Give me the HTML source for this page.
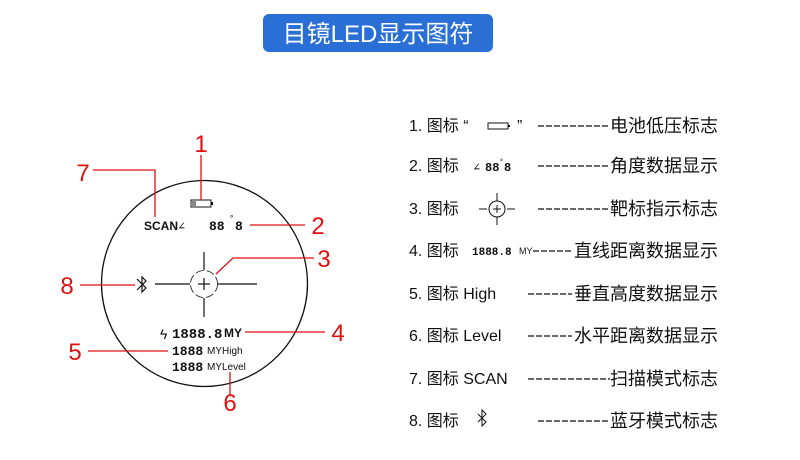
<!DOCTYPE html>
<html><head><meta charset="utf-8"><style>
html,body{margin:0;padding:0;background:#fff;}
svg{display:block;}
.s{font-family:"Liberation Sans","Noto Sans CJK SC",sans-serif;}
.m{font-family:"Liberation Mono",monospace;}
.n{font-family:"Liberation Sans Narrow","Liberation Sans",sans-serif;}
</style></head><body>
<svg width="800" height="460" viewBox="0 0 800 460" xmlns="http://www.w3.org/2000/svg">
<rect x="263" y="14" width="230" height="38" rx="6" fill="#2a6fd6"/>
<text class="s" x="378" y="42" font-size="24" fill="#fff" text-anchor="middle">目镜LED显示图符</text>

<circle cx="204.5" cy="283.5" r="103" fill="none" stroke="#111" stroke-width="1.3"/>
<rect x="191" y="200" width="20" height="7" fill="none" stroke="#111" stroke-width="1"/>
<rect x="211" y="202" width="2" height="3" fill="#111"/>
<line x1="193" y1="201" x2="193" y2="206" stroke="#111"/><line x1="195" y1="201" x2="195" y2="206" stroke="#111"/>
<g fill="#111">
<text class="n" x="144" y="230" font-size="12" font-weight="bold">SCAN</text>
<text class="m" x="178" y="230" font-size="12">∠</text>
<text class="m" x="209" y="230" font-size="13" font-weight="bold">88</text><text class="m" x="229" y="221" font-size="9">°</text><text class="m" x="235" y="230" font-size="13" font-weight="bold">8</text>
<text class="m" x="172" y="338" font-size="14" font-weight="bold">1888.8</text><text class="n" x="224" y="337" font-size="12" font-weight="bold">MY</text>
<text class="s" x="160" y="339" font-size="14">ϟ</text>
<text class="m" x="172" y="355" font-size="13" font-weight="bold">1888</text><text class="n" x="207" y="354" font-size="10">MYHigh</text>
<text class="m" x="172" y="371" font-size="13" font-weight="bold">1888</text><text class="n" x="207" y="370" font-size="10">MYLevel</text>
</g>
<g stroke="#111" stroke-width="1.2" fill="none">
<line x1="155" y1="284" x2="190" y2="284"/><line x1="218" y1="284" x2="257" y2="284"/>
<line x1="204" y1="252" x2="204" y2="270"/><line x1="204" y1="298" x2="204" y2="317"/>
<line x1="198" y1="284" x2="210" y2="284"/><line x1="204" y1="278" x2="204" y2="290"/>
<circle cx="204" cy="284" r="13.5" stroke-width="0.8" stroke-dasharray="8,3"/>
<path d="M137 279 L146 288 L142 292 L142 277 L146 281 L137 290"/>
</g>
<g stroke="#e01010" stroke-width="1.3" fill="none">
<line x1="201" y1="155" x2="201" y2="200"/>
<polyline points="93,170 155,170 155,217"/>
<line x1="250" y1="225" x2="305" y2="225"/>
<polyline points="314,258 233,258 216,274"/>
<line x1="80" y1="285" x2="135" y2="285"/>
<line x1="245" y1="332" x2="325" y2="332"/>
<line x1="88" y1="351" x2="168" y2="351"/>
<line x1="230" y1="372" x2="230" y2="395"/>
</g>
<g class="s" fill="#e01010" font-size="24" text-anchor="middle">
<text x="201" y="152">1</text><text x="83" y="181">7</text><text x="318" y="234">2</text>
<text x="324" y="267">3</text><text x="67" y="294">8</text><text x="338" y="341">4</text>
<text x="75" y="360">5</text><text x="230" y="411">6</text>
</g>

<g class="s" font-size="16" fill="#111">
<text x="409" y="131">1. 图标 “</text><text x="517" y="131">”</text>
<rect x="488" y="123" width="20" height="6" fill="none" stroke="#111" stroke-width="1"/>
<rect x="508" y="125" width="2" height="2" fill="#111"/>
<text x="409" y="171">2. 图标</text><text class="m" x="473" y="171" font-size="12">∠</text><text class="m" x="485" y="171" font-size="12" font-weight="bold">88</text><text class="m" x="499" y="164" font-size="8">°</text><text class="m" x="504" y="171" font-size="12" font-weight="bold">8</text>
<text x="409" y="214">3. 图标</text>
<g stroke="#111" fill="none" stroke-width="1"><circle cx="497" cy="209" r="8"/><line x1="479" y1="209" x2="487" y2="209"/><line x1="493" y1="209" x2="501" y2="209"/><line x1="497" y1="193" x2="497" y2="201"/><line x1="497" y1="205" x2="497" y2="213"/><line x1="497" y1="217" x2="497" y2="225"/><line x1="507" y1="209" x2="515" y2="209"/></g>
<text x="409" y="256">4. 图标</text><text class="m" x="472" y="255" font-size="11" font-weight="bold">1888.8</text><text class="n" x="519" y="254" font-size="9">MY</text>
<text x="409" y="299">5. 图标 High</text>
<text x="409" y="341">6. 图标 Level</text>
<text x="409" y="384">7. 图标 SCAN</text>
<text x="409" y="426">8. 图标</text>
<path d="M478 414 L486 422 L482 426 L482 410 L486 414 L478 422" fill="none" stroke="#111"/>
<g text-anchor="end" font-size="18">
<text x="718" y="132">电池低压标志</text><text x="718" y="172">角度数据显示</text>
<text x="718" y="215">靶标指示标志</text><text x="718" y="257">直线距离数据显示</text>
<text x="718" y="300">垂直高度数据显示</text><text x="718" y="342">水平距离数据显示</text>
<text x="718" y="385">扫描模式标志</text><text x="718" y="427">蓝牙模式标志</text>
</g>
</g>
<g stroke="#111" stroke-width="1.2" stroke-dasharray="6,2">
<line x1="538" y1="126" x2="610" y2="126"/><line x1="538" y1="166" x2="610" y2="166"/>
<line x1="538" y1="209" x2="610" y2="209"/><line x1="533" y1="251" x2="572" y2="251"/>
<line x1="528" y1="294" x2="572" y2="294"/><line x1="528" y1="336" x2="572" y2="336"/>
<line x1="528" y1="379" x2="610" y2="379"/><line x1="538" y1="421" x2="610" y2="421"/>
</g>
</svg>
</body></html>
